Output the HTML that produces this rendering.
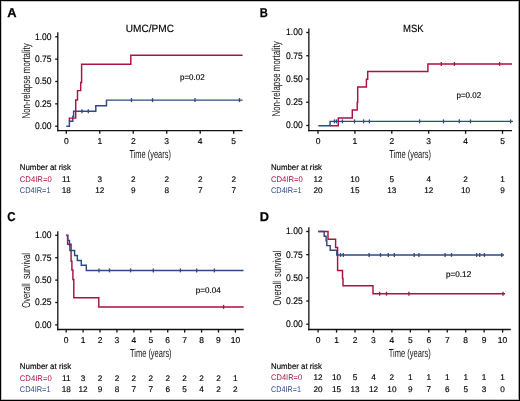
<!DOCTYPE html>
<html><head><meta charset="utf-8"><style>
html,body{margin:0;padding:0;background:#fff;}
body{width:520px;height:401px;overflow:hidden;}
svg{display:block;will-change:transform;text-rendering:geometricPrecision;font-family:"Liberation Sans", sans-serif;}
.ax{stroke:#111;stroke-width:1.3;fill:none;}
.cv{stroke-width:1.45;stroke-linejoin:miter;stroke-linecap:butt;}
.cs{stroke-width:1.3;}
</style></head><body>
<svg width="520" height="401" viewBox="0 0 520 401">
<rect x="0" y="0" width="520" height="401" fill="#fff"/>
<line x1="57.8" y1="32.2" x2="57.8" y2="131.3" class="ax"/>
<line x1="57.15" y1="130.65" x2="242.5" y2="130.65" class="ax"/>
<line x1="55.2" y1="126.2" x2="57.8" y2="126.2" class="ax"/>
<text x="51.6" y="129.05" font-size="9.5" text-anchor="end" fill="#000" textLength="16.6" lengthAdjust="spacingAndGlyphs" stroke="#000" stroke-width="0.15">0.00</text>
<line x1="55.2" y1="103.85" x2="57.8" y2="103.85" class="ax"/>
<text x="51.6" y="106.7" font-size="9.5" text-anchor="end" fill="#000" textLength="16.6" lengthAdjust="spacingAndGlyphs" stroke="#000" stroke-width="0.15">0.25</text>
<line x1="55.2" y1="81.5" x2="57.8" y2="81.5" class="ax"/>
<text x="51.6" y="84.35" font-size="9.5" text-anchor="end" fill="#000" textLength="16.6" lengthAdjust="spacingAndGlyphs" stroke="#000" stroke-width="0.15">0.50</text>
<line x1="55.2" y1="59.15" x2="57.8" y2="59.15" class="ax"/>
<text x="51.6" y="62" font-size="9.5" text-anchor="end" fill="#000" textLength="16.6" lengthAdjust="spacingAndGlyphs" stroke="#000" stroke-width="0.15">0.75</text>
<line x1="55.2" y1="36.8" x2="57.8" y2="36.8" class="ax"/>
<text x="51.6" y="39.65" font-size="9.5" text-anchor="end" fill="#000" textLength="16.6" lengthAdjust="spacingAndGlyphs" stroke="#000" stroke-width="0.15">1.00</text>
<line x1="66.3" y1="130.65" x2="66.3" y2="133.75" class="ax"/>
<text x="66.3" y="143.8" font-size="8.5" text-anchor="middle" fill="#000" stroke="#000" stroke-width="0.15">0</text>
<line x1="99.78" y1="130.65" x2="99.78" y2="133.75" class="ax"/>
<text x="99.78" y="143.8" font-size="8.5" text-anchor="middle" fill="#000" stroke="#000" stroke-width="0.15">1</text>
<line x1="133.26" y1="130.65" x2="133.26" y2="133.75" class="ax"/>
<text x="133.26" y="143.8" font-size="8.5" text-anchor="middle" fill="#000" stroke="#000" stroke-width="0.15">2</text>
<line x1="166.74" y1="130.65" x2="166.74" y2="133.75" class="ax"/>
<text x="166.74" y="143.8" font-size="8.5" text-anchor="middle" fill="#000" stroke="#000" stroke-width="0.15">3</text>
<line x1="200.22" y1="130.65" x2="200.22" y2="133.75" class="ax"/>
<text x="200.22" y="143.8" font-size="8.5" text-anchor="middle" fill="#000" stroke="#000" stroke-width="0.15">4</text>
<line x1="233.7" y1="130.65" x2="233.7" y2="133.75" class="ax"/>
<text x="233.7" y="143.8" font-size="8.5" text-anchor="middle" fill="#000" stroke="#000" stroke-width="0.15">5</text>
<path d="M66.3,126.2H69.4V121.3H72.8V116.4H73.6V111.3H95.8V105.8H106.5V100.1H242.6" fill="none" stroke="#2e4a85" class="cv"/>
<line x1="131.5" y1="98.1" x2="131.5" y2="102.1" stroke="#2e4a85" class="cs"/>
<line x1="152.5" y1="98.1" x2="152.5" y2="102.1" stroke="#2e4a85" class="cs"/>
<line x1="195" y1="98.1" x2="195" y2="102.1" stroke="#2e4a85" class="cs"/>
<line x1="239.5" y1="98.1" x2="239.5" y2="102.1" stroke="#2e4a85" class="cs"/>
<line x1="82" y1="109.3" x2="82" y2="113.3" stroke="#2e4a85" class="cs"/>
<line x1="88.3" y1="109.3" x2="88.3" y2="113.3" stroke="#2e4a85" class="cs"/>
<path d="M69.4,121.3V118.1H75.7V100H77.5V90.6H80.7V82.5H81.6V64.2H130.8V55.2H242.6" fill="none" stroke="#ab1242" class="cv"/>
<text x="7.2" y="17.4" font-size="12.8" font-weight="bold" fill="#000" textLength="9.3" lengthAdjust="spacingAndGlyphs" stroke="#000" stroke-width="0.25">A</text>
<text x="125.8" y="32.1" font-size="10.5" fill="#000" textLength="48.2" lengthAdjust="spacingAndGlyphs" stroke="#000" stroke-width="0.15">UMC/PMC</text>
<text x="180" y="80" font-size="8.3" fill="#000" textLength="24.6" lengthAdjust="spacingAndGlyphs" stroke="#000" stroke-width="0.15">p=0.02</text>
<text transform="translate(29.6,118.5) rotate(-90)" font-size="11.5" fill="#151515" textLength="75.2" lengthAdjust="spacingAndGlyphs">Non-relapse mortality</text>
<text x="129.4" y="158.2" font-size="11.5" fill="#151515" textLength="41.5" lengthAdjust="spacingAndGlyphs">Time (years)</text>
<text x="19.8" y="169.8" font-size="8.2" fill="#000" textLength="51.1" lengthAdjust="spacingAndGlyphs" stroke="#000" stroke-width="0.15">Number at risk</text>
<text x="19.8" y="181.7" font-size="8.2" fill="#ab1242" textLength="31.9" lengthAdjust="spacingAndGlyphs">CD4IR=0</text>
<text x="19.8" y="192.6" font-size="8.2" fill="#2e4a85" textLength="30.8" lengthAdjust="spacingAndGlyphs">CD4IR=1</text>
<text x="66.3" y="181.7" font-size="8.2" text-anchor="middle" fill="#000" stroke="#000" stroke-width="0.15">11</text>
<text x="66.3" y="192.6" font-size="8.2" text-anchor="middle" fill="#000" stroke="#000" stroke-width="0.15">18</text>
<text x="99.78" y="181.7" font-size="8.2" text-anchor="middle" fill="#000" stroke="#000" stroke-width="0.15">3</text>
<text x="99.78" y="192.6" font-size="8.2" text-anchor="middle" fill="#000" stroke="#000" stroke-width="0.15">12</text>
<text x="133.26" y="181.7" font-size="8.2" text-anchor="middle" fill="#000" stroke="#000" stroke-width="0.15">2</text>
<text x="133.26" y="192.6" font-size="8.2" text-anchor="middle" fill="#000" stroke="#000" stroke-width="0.15">9</text>
<text x="166.74" y="181.7" font-size="8.2" text-anchor="middle" fill="#000" stroke="#000" stroke-width="0.15">2</text>
<text x="166.74" y="192.6" font-size="8.2" text-anchor="middle" fill="#000" stroke="#000" stroke-width="0.15">8</text>
<text x="200.22" y="181.7" font-size="8.2" text-anchor="middle" fill="#000" stroke="#000" stroke-width="0.15">2</text>
<text x="200.22" y="192.6" font-size="8.2" text-anchor="middle" fill="#000" stroke="#000" stroke-width="0.15">7</text>
<text x="233.7" y="181.7" font-size="8.2" text-anchor="middle" fill="#000" stroke="#000" stroke-width="0.15">2</text>
<text x="233.7" y="192.6" font-size="8.2" text-anchor="middle" fill="#000" stroke="#000" stroke-width="0.15">7</text>
<line x1="308.85" y1="28.5" x2="308.85" y2="131.3" class="ax"/>
<line x1="308.2" y1="130.65" x2="512" y2="130.65" class="ax"/>
<line x1="306.25" y1="125.5" x2="308.85" y2="125.5" class="ax"/>
<text x="302.7" y="128.35" font-size="9.5" text-anchor="end" fill="#000" textLength="16.6" lengthAdjust="spacingAndGlyphs" stroke="#000" stroke-width="0.15">0.00</text>
<line x1="306.25" y1="102.25" x2="308.85" y2="102.25" class="ax"/>
<text x="302.7" y="105.1" font-size="9.5" text-anchor="end" fill="#000" textLength="16.6" lengthAdjust="spacingAndGlyphs" stroke="#000" stroke-width="0.15">0.25</text>
<line x1="306.25" y1="79" x2="308.85" y2="79" class="ax"/>
<text x="302.7" y="81.85" font-size="9.5" text-anchor="end" fill="#000" textLength="16.6" lengthAdjust="spacingAndGlyphs" stroke="#000" stroke-width="0.15">0.50</text>
<line x1="306.25" y1="55.75" x2="308.85" y2="55.75" class="ax"/>
<text x="302.7" y="58.6" font-size="9.5" text-anchor="end" fill="#000" textLength="16.6" lengthAdjust="spacingAndGlyphs" stroke="#000" stroke-width="0.15">0.75</text>
<line x1="306.25" y1="32.5" x2="308.85" y2="32.5" class="ax"/>
<text x="302.7" y="35.35" font-size="9.5" text-anchor="end" fill="#000" textLength="16.6" lengthAdjust="spacingAndGlyphs" stroke="#000" stroke-width="0.15">1.00</text>
<line x1="318" y1="130.65" x2="318" y2="133.75" class="ax"/>
<text x="318" y="143.5" font-size="8.5" text-anchor="middle" fill="#000" stroke="#000" stroke-width="0.15">0</text>
<line x1="354.9" y1="130.65" x2="354.9" y2="133.75" class="ax"/>
<text x="354.9" y="143.5" font-size="8.5" text-anchor="middle" fill="#000" stroke="#000" stroke-width="0.15">1</text>
<line x1="391.8" y1="130.65" x2="391.8" y2="133.75" class="ax"/>
<text x="391.8" y="143.5" font-size="8.5" text-anchor="middle" fill="#000" stroke="#000" stroke-width="0.15">2</text>
<line x1="428.7" y1="130.65" x2="428.7" y2="133.75" class="ax"/>
<text x="428.7" y="143.5" font-size="8.5" text-anchor="middle" fill="#000" stroke="#000" stroke-width="0.15">3</text>
<line x1="465.6" y1="130.65" x2="465.6" y2="133.75" class="ax"/>
<text x="465.6" y="143.5" font-size="8.5" text-anchor="middle" fill="#000" stroke="#000" stroke-width="0.15">4</text>
<line x1="502.5" y1="130.65" x2="502.5" y2="133.75" class="ax"/>
<text x="502.5" y="143.5" font-size="8.5" text-anchor="middle" fill="#000" stroke="#000" stroke-width="0.15">5</text>
<path d="M318.3,125.7H330.1V121.35H513" fill="none" stroke="#2e4a85" class="cv"/>
<line x1="334.4" y1="119.35" x2="334.4" y2="123.35" stroke="#2e4a85" class="cs"/>
<line x1="336.4" y1="119.35" x2="336.4" y2="123.35" stroke="#2e4a85" class="cs"/>
<line x1="342.4" y1="119.35" x2="342.4" y2="123.35" stroke="#2e4a85" class="cs"/>
<line x1="354.5" y1="119.35" x2="354.5" y2="123.35" stroke="#2e4a85" class="cs"/>
<line x1="363.6" y1="119.35" x2="363.6" y2="123.35" stroke="#2e4a85" class="cs"/>
<line x1="369.4" y1="119.35" x2="369.4" y2="123.35" stroke="#2e4a85" class="cs"/>
<line x1="419.6" y1="119.35" x2="419.6" y2="123.35" stroke="#2e4a85" class="cs"/>
<line x1="443.5" y1="119.35" x2="443.5" y2="123.35" stroke="#2e4a85" class="cs"/>
<line x1="459.3" y1="119.35" x2="459.3" y2="123.35" stroke="#2e4a85" class="cs"/>
<line x1="470.5" y1="119.35" x2="470.5" y2="123.35" stroke="#2e4a85" class="cs"/>
<line x1="510.6" y1="119.35" x2="510.6" y2="123.35" stroke="#2e4a85" class="cs"/>
<path d="M330.1,125.7H338.3V117.9H352.3V110H357.2V102.5H357.7V87H366.4V79.2H367.7V71.4H427.9V63.95H512" fill="none" stroke="#ab1242" class="cv"/>
<line x1="441.3" y1="61.95" x2="441.3" y2="65.95" stroke="#ab1242" class="cs"/>
<line x1="454.4" y1="61.95" x2="454.4" y2="65.95" stroke="#ab1242" class="cs"/>
<line x1="499.6" y1="61.95" x2="499.6" y2="65.95" stroke="#ab1242" class="cs"/>
<text x="259.8" y="17.35" font-size="12.8" font-weight="bold" fill="#000" textLength="8.1" lengthAdjust="spacingAndGlyphs" stroke="#000" stroke-width="0.25">B</text>
<text x="403.1" y="32.1" font-size="10.5" fill="#000" textLength="20.6" lengthAdjust="spacingAndGlyphs" stroke="#000" stroke-width="0.15">MSK</text>
<text x="456.5" y="97.7" font-size="8.3" fill="#000" textLength="24.7" lengthAdjust="spacingAndGlyphs" stroke="#000" stroke-width="0.15">p=0.02</text>
<text transform="translate(280.4,116.6) rotate(-90)" font-size="11.5" fill="#151515" textLength="75.4" lengthAdjust="spacingAndGlyphs">Non-relapse mortality</text>
<text x="389.2" y="158.2" font-size="11.5" fill="#151515" textLength="41.8" lengthAdjust="spacingAndGlyphs">Time (years)</text>
<text x="270.9" y="170.1" font-size="8.2" fill="#000" textLength="51.1" lengthAdjust="spacingAndGlyphs" stroke="#000" stroke-width="0.15">Number at risk</text>
<text x="270.9" y="181.5" font-size="8.2" fill="#ab1242" textLength="31.9" lengthAdjust="spacingAndGlyphs">CD4IR=0</text>
<text x="270.9" y="193" font-size="8.2" fill="#2e4a85" textLength="30.8" lengthAdjust="spacingAndGlyphs">CD4IR=1</text>
<text x="318" y="181.5" font-size="8.2" text-anchor="middle" fill="#000" stroke="#000" stroke-width="0.15">12</text>
<text x="318" y="193" font-size="8.2" text-anchor="middle" fill="#000" stroke="#000" stroke-width="0.15">20</text>
<text x="354.9" y="181.5" font-size="8.2" text-anchor="middle" fill="#000" stroke="#000" stroke-width="0.15">10</text>
<text x="354.9" y="193" font-size="8.2" text-anchor="middle" fill="#000" stroke="#000" stroke-width="0.15">15</text>
<text x="391.8" y="181.5" font-size="8.2" text-anchor="middle" fill="#000" stroke="#000" stroke-width="0.15">5</text>
<text x="391.8" y="193" font-size="8.2" text-anchor="middle" fill="#000" stroke="#000" stroke-width="0.15">13</text>
<text x="428.7" y="181.5" font-size="8.2" text-anchor="middle" fill="#000" stroke="#000" stroke-width="0.15">4</text>
<text x="428.7" y="193" font-size="8.2" text-anchor="middle" fill="#000" stroke="#000" stroke-width="0.15">12</text>
<text x="465.6" y="181.5" font-size="8.2" text-anchor="middle" fill="#000" stroke="#000" stroke-width="0.15">2</text>
<text x="465.6" y="193" font-size="8.2" text-anchor="middle" fill="#000" stroke="#000" stroke-width="0.15">10</text>
<text x="502.5" y="181.5" font-size="8.2" text-anchor="middle" fill="#000" stroke="#000" stroke-width="0.15">1</text>
<text x="502.5" y="193" font-size="8.2" text-anchor="middle" fill="#000" stroke="#000" stroke-width="0.15">9</text>
<line x1="57.8" y1="231.2" x2="57.8" y2="330.15" class="ax"/>
<line x1="57.15" y1="329.5" x2="243.7" y2="329.5" class="ax"/>
<line x1="55.2" y1="324.9" x2="57.8" y2="324.9" class="ax"/>
<text x="51.6" y="327.75" font-size="9.5" text-anchor="end" fill="#000" textLength="16.6" lengthAdjust="spacingAndGlyphs" stroke="#000" stroke-width="0.15">0.00</text>
<line x1="55.2" y1="302.5" x2="57.8" y2="302.5" class="ax"/>
<text x="51.6" y="305.35" font-size="9.5" text-anchor="end" fill="#000" textLength="16.6" lengthAdjust="spacingAndGlyphs" stroke="#000" stroke-width="0.15">0.25</text>
<line x1="55.2" y1="280.1" x2="57.8" y2="280.1" class="ax"/>
<text x="51.6" y="282.95" font-size="9.5" text-anchor="end" fill="#000" textLength="16.6" lengthAdjust="spacingAndGlyphs" stroke="#000" stroke-width="0.15">0.50</text>
<line x1="55.2" y1="257.7" x2="57.8" y2="257.7" class="ax"/>
<text x="51.6" y="260.55" font-size="9.5" text-anchor="end" fill="#000" textLength="16.6" lengthAdjust="spacingAndGlyphs" stroke="#000" stroke-width="0.15">0.75</text>
<line x1="55.2" y1="235.3" x2="57.8" y2="235.3" class="ax"/>
<text x="51.6" y="238.15" font-size="9.5" text-anchor="end" fill="#000" textLength="16.6" lengthAdjust="spacingAndGlyphs" stroke="#000" stroke-width="0.15">1.00</text>
<line x1="66.2" y1="329.5" x2="66.2" y2="332.6" class="ax"/>
<text x="66.2" y="343" font-size="8.5" text-anchor="middle" fill="#000" stroke="#000" stroke-width="0.15">0</text>
<line x1="83.12" y1="329.5" x2="83.12" y2="332.6" class="ax"/>
<text x="83.12" y="343" font-size="8.5" text-anchor="middle" fill="#000" stroke="#000" stroke-width="0.15">1</text>
<line x1="100.04" y1="329.5" x2="100.04" y2="332.6" class="ax"/>
<text x="100.04" y="343" font-size="8.5" text-anchor="middle" fill="#000" stroke="#000" stroke-width="0.15">2</text>
<line x1="116.96" y1="329.5" x2="116.96" y2="332.6" class="ax"/>
<text x="116.96" y="343" font-size="8.5" text-anchor="middle" fill="#000" stroke="#000" stroke-width="0.15">3</text>
<line x1="133.88" y1="329.5" x2="133.88" y2="332.6" class="ax"/>
<text x="133.88" y="343" font-size="8.5" text-anchor="middle" fill="#000" stroke="#000" stroke-width="0.15">4</text>
<line x1="150.8" y1="329.5" x2="150.8" y2="332.6" class="ax"/>
<text x="150.8" y="343" font-size="8.5" text-anchor="middle" fill="#000" stroke="#000" stroke-width="0.15">5</text>
<line x1="167.72" y1="329.5" x2="167.72" y2="332.6" class="ax"/>
<text x="167.72" y="343" font-size="8.5" text-anchor="middle" fill="#000" stroke="#000" stroke-width="0.15">6</text>
<line x1="184.64" y1="329.5" x2="184.64" y2="332.6" class="ax"/>
<text x="184.64" y="343" font-size="8.5" text-anchor="middle" fill="#000" stroke="#000" stroke-width="0.15">7</text>
<line x1="201.56" y1="329.5" x2="201.56" y2="332.6" class="ax"/>
<text x="201.56" y="343" font-size="8.5" text-anchor="middle" fill="#000" stroke="#000" stroke-width="0.15">8</text>
<line x1="218.48" y1="329.5" x2="218.48" y2="332.6" class="ax"/>
<text x="218.48" y="343" font-size="8.5" text-anchor="middle" fill="#000" stroke="#000" stroke-width="0.15">9</text>
<line x1="235.4" y1="329.5" x2="235.4" y2="332.6" class="ax"/>
<text x="235.4" y="343" font-size="8.5" text-anchor="middle" fill="#000" stroke="#000" stroke-width="0.15">10</text>
<path d="M66.2,235.3H67.6V244.2H71.1V261.2H71.9V270H72.9V279.4H73.8V297.8H98.8V306.9H243.7" fill="none" stroke="#ab1242" class="cv"/>
<line x1="223.6" y1="304.9" x2="223.6" y2="308.9" stroke="#ab1242" class="cs"/>
<path d="M66.2,235.4H67.75V240.4H69.5V245.4H69.9V250.4H74.6V255.4H77.35V260.4H81.3V265.3H86.3V270.4H243.5" fill="none" stroke="#2e4a85" class="cv"/>
<line x1="99" y1="268.4" x2="99" y2="272.4" stroke="#2e4a85" class="cs"/>
<line x1="109.5" y1="268.4" x2="109.5" y2="272.4" stroke="#2e4a85" class="cs"/>
<line x1="130.6" y1="268.4" x2="130.6" y2="272.4" stroke="#2e4a85" class="cs"/>
<line x1="153.3" y1="268.4" x2="153.3" y2="272.4" stroke="#2e4a85" class="cs"/>
<line x1="180.4" y1="268.4" x2="180.4" y2="272.4" stroke="#2e4a85" class="cs"/>
<line x1="196.7" y1="268.4" x2="196.7" y2="272.4" stroke="#2e4a85" class="cs"/>
<line x1="214.4" y1="268.4" x2="214.4" y2="272.4" stroke="#2e4a85" class="cs"/>
<text x="7.2" y="221.4" font-size="12.8" font-weight="bold" fill="#000" textLength="8.3" lengthAdjust="spacingAndGlyphs" stroke="#000" stroke-width="0.25">C</text>
<text x="195.8" y="292.8" font-size="8.3" fill="#000" textLength="24.8" lengthAdjust="spacingAndGlyphs" stroke="#000" stroke-width="0.15">p=0.04</text>
<text transform="translate(29.6,307.8) rotate(-90)" font-size="11.5" fill="#151515" textLength="54.8" lengthAdjust="spacingAndGlyphs">Overall&#160; survival</text>
<text x="130" y="356.8" font-size="11.5" fill="#151515" textLength="41.6" lengthAdjust="spacingAndGlyphs">Time (years)</text>
<text x="19.8" y="369" font-size="8.2" fill="#000" textLength="51.4" lengthAdjust="spacingAndGlyphs" stroke="#000" stroke-width="0.15">Number at risk</text>
<text x="19.8" y="380.5" font-size="8.2" fill="#ab1242" textLength="31.9" lengthAdjust="spacingAndGlyphs">CD4IR=0</text>
<text x="19.8" y="391.7" font-size="8.2" fill="#2e4a85" textLength="30.8" lengthAdjust="spacingAndGlyphs">CD4IR=1</text>
<text x="66.2" y="380.5" font-size="8.2" text-anchor="middle" fill="#000" stroke="#000" stroke-width="0.15">11</text>
<text x="66.2" y="391.7" font-size="8.2" text-anchor="middle" fill="#000" stroke="#000" stroke-width="0.15">18</text>
<text x="83.12" y="380.5" font-size="8.2" text-anchor="middle" fill="#000" stroke="#000" stroke-width="0.15">3</text>
<text x="83.12" y="391.7" font-size="8.2" text-anchor="middle" fill="#000" stroke="#000" stroke-width="0.15">12</text>
<text x="100.04" y="380.5" font-size="8.2" text-anchor="middle" fill="#000" stroke="#000" stroke-width="0.15">2</text>
<text x="100.04" y="391.7" font-size="8.2" text-anchor="middle" fill="#000" stroke="#000" stroke-width="0.15">9</text>
<text x="116.96" y="380.5" font-size="8.2" text-anchor="middle" fill="#000" stroke="#000" stroke-width="0.15">2</text>
<text x="116.96" y="391.7" font-size="8.2" text-anchor="middle" fill="#000" stroke="#000" stroke-width="0.15">8</text>
<text x="133.88" y="380.5" font-size="8.2" text-anchor="middle" fill="#000" stroke="#000" stroke-width="0.15">2</text>
<text x="133.88" y="391.7" font-size="8.2" text-anchor="middle" fill="#000" stroke="#000" stroke-width="0.15">7</text>
<text x="150.8" y="380.5" font-size="8.2" text-anchor="middle" fill="#000" stroke="#000" stroke-width="0.15">2</text>
<text x="150.8" y="391.7" font-size="8.2" text-anchor="middle" fill="#000" stroke="#000" stroke-width="0.15">7</text>
<text x="167.72" y="380.5" font-size="8.2" text-anchor="middle" fill="#000" stroke="#000" stroke-width="0.15">2</text>
<text x="167.72" y="391.7" font-size="8.2" text-anchor="middle" fill="#000" stroke="#000" stroke-width="0.15">6</text>
<text x="184.64" y="380.5" font-size="8.2" text-anchor="middle" fill="#000" stroke="#000" stroke-width="0.15">2</text>
<text x="184.64" y="391.7" font-size="8.2" text-anchor="middle" fill="#000" stroke="#000" stroke-width="0.15">5</text>
<text x="201.56" y="380.5" font-size="8.2" text-anchor="middle" fill="#000" stroke="#000" stroke-width="0.15">2</text>
<text x="201.56" y="391.7" font-size="8.2" text-anchor="middle" fill="#000" stroke="#000" stroke-width="0.15">4</text>
<text x="218.48" y="380.5" font-size="8.2" text-anchor="middle" fill="#000" stroke="#000" stroke-width="0.15">2</text>
<text x="218.48" y="391.7" font-size="8.2" text-anchor="middle" fill="#000" stroke="#000" stroke-width="0.15">2</text>
<text x="235.4" y="380.5" font-size="8.2" text-anchor="middle" fill="#000" stroke="#000" stroke-width="0.15">1</text>
<text x="235.4" y="391.7" font-size="8.2" text-anchor="middle" fill="#000" stroke="#000" stroke-width="0.15">2</text>
<line x1="308.85" y1="227.2" x2="308.85" y2="330.15" class="ax"/>
<line x1="308.2" y1="329.5" x2="510.8" y2="329.5" class="ax"/>
<line x1="306.25" y1="324.2" x2="308.85" y2="324.2" class="ax"/>
<text x="302.7" y="327.05" font-size="9.5" text-anchor="end" fill="#000" textLength="16.6" lengthAdjust="spacingAndGlyphs" stroke="#000" stroke-width="0.15">0.00</text>
<line x1="306.25" y1="301.02" x2="308.85" y2="301.02" class="ax"/>
<text x="302.7" y="303.88" font-size="9.5" text-anchor="end" fill="#000" textLength="16.6" lengthAdjust="spacingAndGlyphs" stroke="#000" stroke-width="0.15">0.25</text>
<line x1="306.25" y1="277.85" x2="308.85" y2="277.85" class="ax"/>
<text x="302.7" y="280.7" font-size="9.5" text-anchor="end" fill="#000" textLength="16.6" lengthAdjust="spacingAndGlyphs" stroke="#000" stroke-width="0.15">0.50</text>
<line x1="306.25" y1="254.67" x2="308.85" y2="254.67" class="ax"/>
<text x="302.7" y="257.52" font-size="9.5" text-anchor="end" fill="#000" textLength="16.6" lengthAdjust="spacingAndGlyphs" stroke="#000" stroke-width="0.15">0.75</text>
<line x1="306.25" y1="231.5" x2="308.85" y2="231.5" class="ax"/>
<text x="302.7" y="234.35" font-size="9.5" text-anchor="end" fill="#000" textLength="16.6" lengthAdjust="spacingAndGlyphs" stroke="#000" stroke-width="0.15">1.00</text>
<line x1="318.1" y1="329.5" x2="318.1" y2="332.6" class="ax"/>
<text x="318.1" y="342.7" font-size="8.5" text-anchor="middle" fill="#000" stroke="#000" stroke-width="0.15">0</text>
<line x1="336.55" y1="329.5" x2="336.55" y2="332.6" class="ax"/>
<text x="336.55" y="342.7" font-size="8.5" text-anchor="middle" fill="#000" stroke="#000" stroke-width="0.15">1</text>
<line x1="355" y1="329.5" x2="355" y2="332.6" class="ax"/>
<text x="355" y="342.7" font-size="8.5" text-anchor="middle" fill="#000" stroke="#000" stroke-width="0.15">2</text>
<line x1="373.45" y1="329.5" x2="373.45" y2="332.6" class="ax"/>
<text x="373.45" y="342.7" font-size="8.5" text-anchor="middle" fill="#000" stroke="#000" stroke-width="0.15">3</text>
<line x1="391.9" y1="329.5" x2="391.9" y2="332.6" class="ax"/>
<text x="391.9" y="342.7" font-size="8.5" text-anchor="middle" fill="#000" stroke="#000" stroke-width="0.15">4</text>
<line x1="410.35" y1="329.5" x2="410.35" y2="332.6" class="ax"/>
<text x="410.35" y="342.7" font-size="8.5" text-anchor="middle" fill="#000" stroke="#000" stroke-width="0.15">5</text>
<line x1="428.8" y1="329.5" x2="428.8" y2="332.6" class="ax"/>
<text x="428.8" y="342.7" font-size="8.5" text-anchor="middle" fill="#000" stroke="#000" stroke-width="0.15">6</text>
<line x1="447.25" y1="329.5" x2="447.25" y2="332.6" class="ax"/>
<text x="447.25" y="342.7" font-size="8.5" text-anchor="middle" fill="#000" stroke="#000" stroke-width="0.15">7</text>
<line x1="465.7" y1="329.5" x2="465.7" y2="332.6" class="ax"/>
<text x="465.7" y="342.7" font-size="8.5" text-anchor="middle" fill="#000" stroke="#000" stroke-width="0.15">8</text>
<line x1="484.15" y1="329.5" x2="484.15" y2="332.6" class="ax"/>
<text x="484.15" y="342.7" font-size="8.5" text-anchor="middle" fill="#000" stroke="#000" stroke-width="0.15">9</text>
<line x1="502.6" y1="329.5" x2="502.6" y2="332.6" class="ax"/>
<text x="502.6" y="342.7" font-size="8.5" text-anchor="middle" fill="#000" stroke="#000" stroke-width="0.15">10</text>
<path d="M318.2,231.5H328V239.2H335.6V247.5H337.6V270.4H342.5V278.5H343V285.8H373V293.7H505" fill="none" stroke="#ab1242" class="cv"/>
<line x1="379.6" y1="291.7" x2="379.6" y2="295.7" stroke="#ab1242" class="cs"/>
<line x1="386.5" y1="291.7" x2="386.5" y2="295.7" stroke="#ab1242" class="cs"/>
<line x1="408.9" y1="291.7" x2="408.9" y2="295.7" stroke="#ab1242" class="cs"/>
<line x1="503" y1="291.7" x2="503" y2="295.7" stroke="#ab1242" class="cs"/>
<path d="M318.2,231.5H324.2V236.2H326.1V240.7H326.8V245.6H330.2V250.3H336.8V254.9H504" fill="none" stroke="#2e4a85" class="cv"/>
<line x1="340.5" y1="252.9" x2="340.5" y2="256.9" stroke="#2e4a85" class="cs"/>
<line x1="343.3" y1="252.9" x2="343.3" y2="256.9" stroke="#2e4a85" class="cs"/>
<line x1="369.1" y1="252.9" x2="369.1" y2="256.9" stroke="#2e4a85" class="cs"/>
<line x1="380.5" y1="252.9" x2="380.5" y2="256.9" stroke="#2e4a85" class="cs"/>
<line x1="388.3" y1="252.9" x2="388.3" y2="256.9" stroke="#2e4a85" class="cs"/>
<line x1="394.3" y1="252.9" x2="394.3" y2="256.9" stroke="#2e4a85" class="cs"/>
<line x1="414.2" y1="252.9" x2="414.2" y2="256.9" stroke="#2e4a85" class="cs"/>
<line x1="418.9" y1="252.9" x2="418.9" y2="256.9" stroke="#2e4a85" class="cs"/>
<line x1="445.1" y1="252.9" x2="445.1" y2="256.9" stroke="#2e4a85" class="cs"/>
<line x1="451.5" y1="252.9" x2="451.5" y2="256.9" stroke="#2e4a85" class="cs"/>
<line x1="476.7" y1="252.9" x2="476.7" y2="256.9" stroke="#2e4a85" class="cs"/>
<line x1="479.7" y1="252.9" x2="479.7" y2="256.9" stroke="#2e4a85" class="cs"/>
<line x1="484.4" y1="252.9" x2="484.4" y2="256.9" stroke="#2e4a85" class="cs"/>
<line x1="501.8" y1="252.9" x2="501.8" y2="256.9" stroke="#2e4a85" class="cs"/>
<text x="259.8" y="221.3" font-size="12.8" font-weight="bold" fill="#000" textLength="9.2" lengthAdjust="spacingAndGlyphs" stroke="#000" stroke-width="0.25">D</text>
<text x="446" y="277.3" font-size="8.3" fill="#000" textLength="25.2" lengthAdjust="spacingAndGlyphs" stroke="#000" stroke-width="0.15">p=0.12</text>
<text transform="translate(280.6,305.4) rotate(-90)" font-size="11.5" fill="#151515" textLength="54.5" lengthAdjust="spacingAndGlyphs">Overall&#160; survival</text>
<text x="388.8" y="357.2" font-size="11.5" fill="#151515" textLength="41.9" lengthAdjust="spacingAndGlyphs">Time (years)</text>
<text x="271.1" y="368.8" font-size="8.2" fill="#000" textLength="50.8" lengthAdjust="spacingAndGlyphs" stroke="#000" stroke-width="0.15">Number at risk</text>
<text x="271.1" y="380.2" font-size="8.2" fill="#ab1242" textLength="31" lengthAdjust="spacingAndGlyphs">CD4IR=0</text>
<text x="271.1" y="391.6" font-size="8.2" fill="#2e4a85" textLength="29.9" lengthAdjust="spacingAndGlyphs">CD4IR=1</text>
<text x="318.1" y="380.2" font-size="8.2" text-anchor="middle" fill="#000" stroke="#000" stroke-width="0.15">12</text>
<text x="318.1" y="391.6" font-size="8.2" text-anchor="middle" fill="#000" stroke="#000" stroke-width="0.15">20</text>
<text x="336.55" y="380.2" font-size="8.2" text-anchor="middle" fill="#000" stroke="#000" stroke-width="0.15">10</text>
<text x="336.55" y="391.6" font-size="8.2" text-anchor="middle" fill="#000" stroke="#000" stroke-width="0.15">15</text>
<text x="355" y="380.2" font-size="8.2" text-anchor="middle" fill="#000" stroke="#000" stroke-width="0.15">5</text>
<text x="355" y="391.6" font-size="8.2" text-anchor="middle" fill="#000" stroke="#000" stroke-width="0.15">13</text>
<text x="373.45" y="380.2" font-size="8.2" text-anchor="middle" fill="#000" stroke="#000" stroke-width="0.15">4</text>
<text x="373.45" y="391.6" font-size="8.2" text-anchor="middle" fill="#000" stroke="#000" stroke-width="0.15">12</text>
<text x="391.9" y="380.2" font-size="8.2" text-anchor="middle" fill="#000" stroke="#000" stroke-width="0.15">2</text>
<text x="391.9" y="391.6" font-size="8.2" text-anchor="middle" fill="#000" stroke="#000" stroke-width="0.15">10</text>
<text x="410.35" y="380.2" font-size="8.2" text-anchor="middle" fill="#000" stroke="#000" stroke-width="0.15">1</text>
<text x="410.35" y="391.6" font-size="8.2" text-anchor="middle" fill="#000" stroke="#000" stroke-width="0.15">9</text>
<text x="428.8" y="380.2" font-size="8.2" text-anchor="middle" fill="#000" stroke="#000" stroke-width="0.15">1</text>
<text x="428.8" y="391.6" font-size="8.2" text-anchor="middle" fill="#000" stroke="#000" stroke-width="0.15">7</text>
<text x="447.25" y="380.2" font-size="8.2" text-anchor="middle" fill="#000" stroke="#000" stroke-width="0.15">1</text>
<text x="447.25" y="391.6" font-size="8.2" text-anchor="middle" fill="#000" stroke="#000" stroke-width="0.15">6</text>
<text x="465.7" y="380.2" font-size="8.2" text-anchor="middle" fill="#000" stroke="#000" stroke-width="0.15">1</text>
<text x="465.7" y="391.6" font-size="8.2" text-anchor="middle" fill="#000" stroke="#000" stroke-width="0.15">5</text>
<text x="484.15" y="380.2" font-size="8.2" text-anchor="middle" fill="#000" stroke="#000" stroke-width="0.15">1</text>
<text x="484.15" y="391.6" font-size="8.2" text-anchor="middle" fill="#000" stroke="#000" stroke-width="0.15">3</text>
<text x="502.6" y="380.2" font-size="8.2" text-anchor="middle" fill="#000" stroke="#000" stroke-width="0.15">1</text>
<text x="502.6" y="391.6" font-size="8.2" text-anchor="middle" fill="#000" stroke="#000" stroke-width="0.15">0</text>
<rect x="1" y="1" width="517" height="1" fill="#c8c8c8"/>
<rect x="1" y="1" width="1" height="398" fill="#c8c8c8"/>
<rect x="518" y="1" width="1" height="399" fill="#a0a0a0"/>
<rect x="1" y="399" width="518" height="1" fill="#bebebe"/>
<rect x="0" y="0" width="520" height="1" fill="#000"/>
<rect x="0" y="0" width="1" height="401" fill="#000"/>
<rect x="519" y="0" width="1" height="401" fill="#000"/>
<rect x="0" y="400" width="520" height="1" fill="#000"/>
</svg>
</body></html>
